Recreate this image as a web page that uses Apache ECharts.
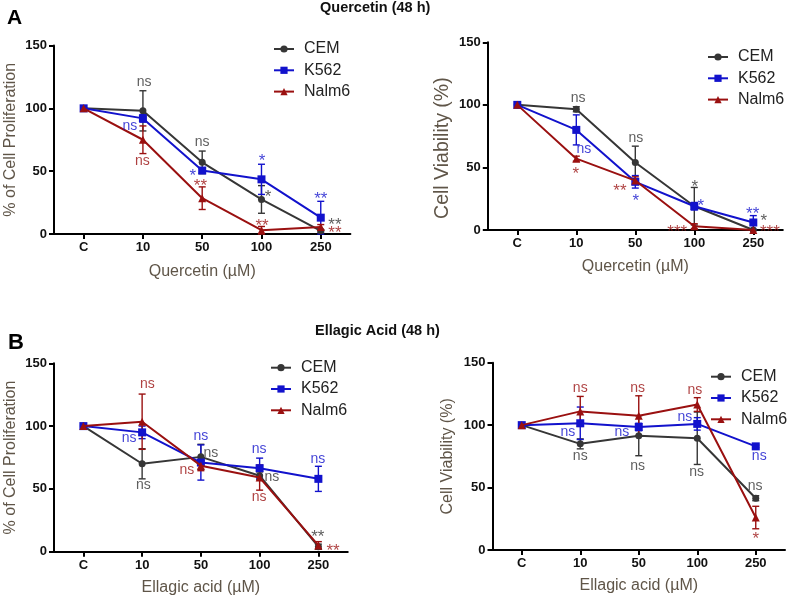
<!DOCTYPE html>
<html>
<head>
<meta charset="utf-8">
<script src="https://cdn.jsdelivr.net/npm/echarts@6/dist/echarts.min.js"></script>
<style>
html,body{margin:0;padding:0;background:#fff;}
#chart{width:787px;height:597px;}
</style>
</head>
<body>
<div id="chart"></div>
<script>
// ---------- DATA ----------
const categories = ['C', '10', '50', '100', '250'];
const seriesNames = ['CEM', 'K562', 'Nalm6'];

// Panel A left: Quercetin, % of Cell Proliferation
const qProlCEM = [100, 98, 57, 27.5, 2.5];
const qProlCEMErr = [0, 16, 9, 11, 1];
const qProlK562 = [100, 92, 50.5, 43.5, 13];
const qProlK562Err = [0, 3, 2, 12, 13];
const qProlNalm6 = [100, 75, 28.5, 3, 5.5];
const qProlNalm6Err = [0, 11, 9, 3, 2];

// Panel A right: Quercetin, Cell Viability (%)
const qViabCEM = [100, 96.5, 54, 19, 0];
const qViabCEMErr = [0, 2, 13, 15, 0];
const qViabK562 = [100, 80, 38.5, 19, 6];
const qViabK562Err = [0, 12, 5, 3, 5.5];
const qViabNalm6 = [100, 57, 39.5, 3, 0];
const qViabNalm6Err = [0, 2, 3, 2, 0];

// Panel B left: Ellagic acid, % of Cell Proliferation
const eProlCEM = [100, 70, 75.5, 60.5, 4];
const eProlCEMErr = [0, 12, 10, 3, 2];
const eProlK562 = [100, 95, 71, 66.5, 58];
const eProlK562Err = [0, 5, 14, 8, 10];
const eProlNalm6 = [100, 103.5, 68.5, 59, 5];
const eProlNalm6Err = [0, 22, 4, 10, 3];

// Panel B right: Ellagic acid, Cell Viability (%)
const eViabCEM = [100, 85, 91.5, 89.5, 41.5];
const eViabCEMErr = [0, 4, 16, 21, 2];
const eViabK562 = [100, 101.5, 98.5, 101, 83];
const eViabK562Err = [0, 13, 3, 5, 1];
const eViabNalm6 = [100, 111, 107.5, 116.5, 26];
const eViabNalm6Err = [0, 12, 16, 5.5, 9];

// Significance annotations: [category position, value, text, series]
const qProlNotes = [
  [1.02, 120, 'ns', 'CEM'], [0.78, 85, 'ns', 'K562'], [0.99, 57, 'ns', 'Nalm6'],
  [2.0, 72, 'ns', 'CEM'], [1.84, 49, '*', 'K562'], [1.97, 41, '**', 'Nalm6'],
  [3.01, 61, '*', 'K562'], [3.11, 32, '*', 'CEM'], [3.01, 9.5, '**', 'Nalm6'],
  [4.0, 31, '**', 'K562'], [4.24, 10, '**', 'CEM'], [4.24, 3.5, '**', 'Nalm6']
];
const qViabNotes = [
  [1.03, 104.7, 'ns', 'CEM'], [1.13, 64, 'ns', 'K562'], [0.99, 48, '*', 'Nalm6'],
  [2.01, 72.7, 'ns', 'CEM'], [1.74, 34.4, '**', 'Nalm6'], [2.01, 26.4, '*', 'K562'],
  [3.01, 37.6, '*', 'CEM'], [3.11, 22.4, '*', 'K562'], [2.71, 1.6, '***', 'Nalm6'],
  [3.99, 16, '**', 'K562'], [4.18, 10.4, '*', 'CEM'], [4.28, 1.6, '***', 'Nalm6']
];
const eProlNotes = [
  [1.09, 132.7, 'ns', 'Nalm6'], [0.78, 89.7, 'ns', 'K562'], [1.02, 52.3, 'ns', 'CEM'],
  [2.0, 91.3, 'ns', 'K562'], [2.17, 77.8, 'ns', 'CEM'], [1.76, 64.3, 'ns', 'Nalm6'],
  [2.99, 81, 'ns', 'K562'], [3.21, 58.7, 'ns', 'CEM'], [2.99, 42.8, 'ns', 'Nalm6'],
  [3.99, 73, 'ns', 'K562'], [3.99, 14.9, '**', 'CEM'], [4.25, 3.7, '**', 'Nalm6']
];
const eViabNotes = [
  [1.0, 129, 'ns', 'Nalm6'], [0.79, 93.7, 'ns', 'K562'], [1.0, 74.5, 'ns', 'CEM'],
  [1.98, 129, 'ns', 'Nalm6'], [1.71, 93.7, 'ns', 'K562'], [1.98, 66.5, 'ns', 'CEM'],
  [2.96, 127.3, 'ns', 'Nalm6'], [2.79, 105.7, 'ns', 'K562'], [2.99, 61.7, 'ns', 'CEM'],
  [4.06, 74.5, 'ns', 'K562'], [3.99, 50.5, 'ns', 'CEM'], [4.0, 12, '*', 'Nalm6']
];

const yTicks = [0, 50, 100, 150];

// ---------- BUILD ----------
const FONT = 'Arial, "Liberation Sans", Helvetica, sans-serif';
const colors = { CEM: '#363636', K562: '#1212cc', Nalm6: '#9a1010' };
const symbols = { CEM: 'circle', K562: 'rect', Nalm6: 'triangle' };
const symbolSizes = { CEM: 7, K562: 8, Nalm6: 8 };

const panels = [
  { grid: { left: 54, top: 45.5, width: 296.4, height: 188.5 },
    yName: '% of Cell Proliferation', yGap: 35, ySize: 16, yPad: 0,
    xName: 'Quercetin (µM)', xGap: 29.5,
    values: [qProlCEM, qProlK562, qProlNalm6], errs: [qProlCEMErr, qProlK562Err, qProlNalm6Err],
    notes: qProlNotes, legend: { left: 273, top: 41 } },
  { grid: { left: 487.8, top: 42.3, width: 295, height: 187.7 },
    yName: 'Cell Viability (%)', yGap: 35, ySize: 19.5, yPad: 24,
    xName: 'Quercetin (µM)', xGap: 29,
    values: [qViabCEM, qViabK562, qViabNalm6], errs: [qViabCEMErr, qViabK562Err, qViabNalm6Err],
    notes: qViabNotes, legend: { left: 707, top: 49 } },
  { grid: { left: 54, top: 363.3, width: 293.75, height: 188.4 },
    yName: '% of Cell Proliferation', yGap: 35, ySize: 16, yPad: 0,
    xName: 'Ellagic acid (µM)', xGap: 27.5,
    values: [eProlCEM, eProlK562, eProlNalm6], errs: [eProlCEMErr, eProlK562Err, eProlNalm6Err],
    notes: eProlNotes, legend: { left: 270, top: 359.7 } },
  { grid: { left: 492.5, top: 362.7, width: 292.5, height: 187.3 },
    yName: 'Cell Viability (%)', yGap: 37, ySize: 16, yPad: 0,
    xName: 'Ellagic acid (µM)', xGap: 28,
    values: [eViabCEM, eViabK562, eViabNalm6], errs: [eViabCEMErr, eViabK562Err, eViabNalm6Err],
    notes: eViabNotes, legend: { left: 710, top: 368.7 } }
];

const grids = [], xAxes = [], yAxes = [], series = [], legends = [];
const axisLabelStyle = { color: '#111', fontFamily: FONT, fontWeight: 'bold', fontSize: 13 };
const nameColor = '#5f5548';

function errorRender(color) {
  return function (params, api) {
    const x = api.value(0), y = api.value(1), e = api.value(2);
    if (!e) return null;
    const top = api.coord([x, y + e]);
    const bot = api.coord([x, y - e]);
    const cw = 3.5;
    const st = { stroke: color, lineWidth: 1.4 };
    return { type: 'group', children: [
      { type: 'line', shape: { x1: top[0], y1: top[1], x2: bot[0], y2: bot[1] }, style: st },
      { type: 'line', shape: { x1: top[0] - cw, y1: top[1], x2: top[0] + cw, y2: top[1] }, style: st },
      { type: 'line', shape: { x1: bot[0] - cw, y1: bot[1], x2: bot[0] + cw, y2: bot[1] }, style: st }
    ] };
  };
}

panels.forEach((p, gi) => {
  grids.push(Object.assign({ containLabel: false }, p.grid));
  xAxes.push({
    type: 'category', gridIndex: gi, data: categories, boundaryGap: true,
    axisLine: { show: true, onZero: false, lineStyle: { color: '#000', width: 2 } },
    axisTick: { show: true, alignWithLabel: true, length: 5, lineStyle: { color: '#000', width: 2 } },
    axisLabel: Object.assign({ margin: 7, interval: 0 }, axisLabelStyle),
    splitLine: { show: false },
    name: p.xName, nameLocation: 'middle', nameGap: p.xGap,
    nameTextStyle: { color: nameColor, fontFamily: FONT, fontSize: 16 }
  });
  xAxes.push({
    type: 'value', gridIndex: gi, min: -0.5, max: 4.5, show: false
  });
  yAxes.push({
    type: 'value', gridIndex: gi, min: 0, max: 150, interval: 50,
    axisLine: { show: true, onZero: false, lineStyle: { color: '#000', width: 2 } },
    axisTick: { show: true, length: 5, lineStyle: { color: '#000', width: 2 } },
    axisLabel: Object.assign({ margin: 7 }, axisLabelStyle),
    splitLine: { show: false },
    name: p.yName, nameLocation: 'middle', nameGap: p.yGap,
    nameTextStyle: { color: nameColor, fontFamily: FONT, fontSize: p.ySize, padding: [0, p.yPad, 0, 0] }
  });
  seriesNames.forEach((name, si) => {
    series.push({
      type: 'line', name: name, xAxisIndex: gi * 2, yAxisIndex: gi,
      data: p.values[si], symbol: symbols[name], symbolSize: symbolSizes[name],
      showAllSymbol: true, animation: false,
      lineStyle: { color: colors[name], width: 2 },
      itemStyle: { color: colors[name], borderWidth: 0 }, z: 3 + si
    });
  });
  seriesNames.forEach((name, si) => {
    const vals = p.values[si], errs = p.errs[si];
    series.push({
      type: 'custom', name: name + ' SD', xAxisIndex: gi * 2, yAxisIndex: gi,
      renderItem: errorRender(colors[name]),
      data: categories.map((c, i) => [i, vals[i], errs[i]]),
      encode: { x: 0, y: 1 }, z: 2, silent: true
    });
  });
  series.push({
    type: 'scatter', name: 'notes', xAxisIndex: gi * 2 + 1, yAxisIndex: gi,
    symbolSize: 1, itemStyle: { color: 'rgba(0,0,0,0)' }, silent: true, z: 10,
    data: p.notes.map(n => {
      const star = n[2].charAt(0) === '*';
      return {
        value: [n[0], n[1]],
        label: {
          show: true, position: 'inside', formatter: n[2],
          color: colors[n[3]], fontFamily: FONT,
          fontSize: star ? 17 : 14,
          offset: star ? [0, 4] : [0, -1]
        }
      };
    })
  });
  legends.push({
    left: p.legend.left, top: p.legend.top, orient: 'vertical', padding: 0,
    data: seriesNames, itemWidth: 20, itemHeight: 9, itemGap: 5.3,
    selectedMode: false,
    textStyle: { color: '#222', fontFamily: FONT, fontSize: 16, lineHeight: 16, padding: [0, 0, 0, 5] }
  });
});

const option = {
  animation: false,
  backgroundColor: '#fff',
  title: [
    { text: 'A', left: 7, top: 8, padding: 0, textStyle: { fontFamily: FONT, fontWeight: 'bold', fontSize: 21, color: '#000' } },
    { text: 'Quercetin (48 h)', left: 320, top: 0, padding: 0, textStyle: { fontFamily: FONT, fontWeight: 'bold', fontSize: 14.5, color: '#111' } },
    { text: 'B', left: 8, top: 332, padding: 0, textStyle: { fontFamily: FONT, fontWeight: 'bold', fontSize: 22, color: '#000' } },
    { text: 'Ellagic Acid (48 h)', left: 315, top: 323.5, padding: 0, textStyle: { fontFamily: FONT, fontWeight: 'bold', fontSize: 14.5, color: '#111' } }
  ],
  legend: legends,
  grid: grids,
  xAxis: xAxes,
  yAxis: yAxes,
  series: series
};

const chart = echarts.init(document.getElementById('chart'), null, { renderer: 'canvas' });
chart.setOption(option);
</script>
</body>
</html>
